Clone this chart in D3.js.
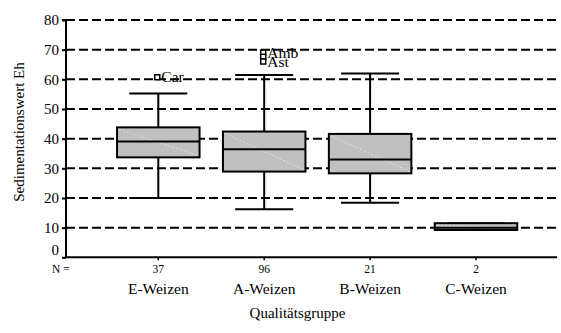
<!DOCTYPE html>
<html>
<head>
<meta charset="utf-8">
<script src="https://cdn.jsdelivr.net/npm/d3@7"></script>
<style>
  html, body { margin: 0; padding: 0; background: #fff; }
  svg { display: block; }
  svg text { font-family: "Liberation Serif", "Times New Roman", Times, serif; fill: #000; }
</style>
</head>
<body>
<svg id="chart" width="561" height="333"></svg>
<script>
// Sedimentationswert by quality group (box plot)
const categories = ["E-Weizen", "A-Weizen", "B-Weizen", "C-Weizen"];
const counts     = [37, 96, 21, 2];
const whiskerLow = [20, 16.2, 18.4, 9.2];
const q1         = [33.7, 28.9, 28.3, 9.2];
const median     = [39.0, 36.4, 33.0, 10.0];
const q3         = [43.8, 42.4, 41.6, 11.5];
const whiskerHigh= [55.2, 61.5, 62.0, 11.5];
// outliers: [category, value, label]
const outliers = [
  ["E-Weizen", 60.7, "Car"],
  ["A-Weizen", 69.0, "Amb"],
  ["A-Weizen", 67.6, ""],
  ["A-Weizen", 66.0, "Ast"]
];
const yTicks = [0, 10, 20, 30, 40, 50, 60, 70, 80];

const FONT = '"Liberation Serif", "Times New Roman", Times, serif';
const svg = d3.select("#chart");
const plotL = 66, plotR = 557, plotT = 20, plotB = 257.3;

const y = d3.scaleLinear().domain([0, 80]).range([plotB, plotT]);
const x = d3.scalePoint().domain(categories).range([158.3, 476]);
const boxW = 82.5, capW = 58;

// dashed reference lines
svg.append("g").selectAll("line")
  .data(yTicks.filter(d => d > 0))
  .join("line")
  .attr("x1", plotL).attr("x2", plotR)
  .attr("y1", d => y(d)).attr("y2", d => y(d))
  .attr("stroke", "#000").attr("stroke-width", 2)
  .attr("stroke-dasharray", "9,4");

// y axis
const yAxis = d3.axisLeft(y).tickValues(yTicks).tickSize(4).tickPadding(3);
const ya = svg.append("g").attr("transform", `translate(${plotL},0)`).call(yAxis);
ya.attr("font-family", FONT).attr("font-size", 15);
ya.select(".domain").attr("stroke-width", 2).attr("d", `M-4,${plotT}H0V${plotB}`);
ya.selectAll(".tick line").attr("stroke-width", 2);
ya.selectAll(".tick text")
  .attr("font-family", FONT).attr("font-size", 15).attr("fill", "#000")
  .attr("dy", d => d === 0 ? "-0.22em" : "0.32em");

// x baseline
svg.append("line")
  .attr("x1", plotL - 1).attr("x2", plotR)
  .attr("y1", plotB).attr("y2", plotB)
  .attr("stroke", "#000").attr("stroke-width", 2);
svg.append("g").selectAll("line")
  .data(categories).join("line")
  .attr("x1", d => x(d)).attr("x2", d => x(d))
  .attr("y1", plotB).attr("y2", plotB + 3)
  .attr("stroke", "#000").attr("stroke-width", 1.5);

// boxes
const g = svg.append("g");
categories.forEach((c, i) => {
  const cx = x(c);
  // whiskers
  g.append("line").attr("x1", cx).attr("x2", cx)
    .attr("y1", y(q3[i])).attr("y2", y(whiskerHigh[i]))
    .attr("stroke", "#000").attr("stroke-width", 2);
  g.append("line").attr("x1", cx).attr("x2", cx)
    .attr("y1", y(q1[i])).attr("y2", y(whiskerLow[i]))
    .attr("stroke", "#000").attr("stroke-width", 2);
  g.append("line").attr("x1", cx - capW / 2).attr("x2", cx + capW / 2)
    .attr("y1", y(whiskerHigh[i])).attr("y2", y(whiskerHigh[i]))
    .attr("stroke", "#000").attr("stroke-width", 2);
  g.append("line").attr("x1", cx - capW / 2).attr("x2", cx + capW / 2)
    .attr("y1", y(whiskerLow[i])).attr("y2", y(whiskerLow[i]))
    .attr("stroke", "#000").attr("stroke-width", 2);
  // box
  g.append("rect")
    .attr("x", cx - boxW / 2).attr("y", y(q3[i]))
    .attr("width", boxW).attr("height", y(q1[i]) - y(q3[i]))
    .attr("fill", "#c0c0c0").attr("stroke", "#000").attr("stroke-width", 2);
  // faint diagonal sheen
  g.append("line")
    .attr("x1", cx - boxW / 2 + 2).attr("y1", y(q3[i]) + 2)
    .attr("x2", cx + boxW / 2 - 2).attr("y2", y(q1[i]) - 2)
    .attr("stroke", "#e2e2e2").attr("stroke-width", 1)
    .attr("stroke-dasharray", "2,2");
  // median
  g.append("line").attr("x1", cx - boxW / 2).attr("x2", cx + boxW / 2)
    .attr("y1", y(median[i])).attr("y2", y(median[i]))
    .attr("stroke", "#000").attr("stroke-width", 2);
});

// outliers
const og = svg.append("g");
outliers.forEach(([c, v, lab]) => {
  const cx = x(c) - 1, cy = y(v);
  og.append("rect").attr("x", cx - 2.5).attr("y", cy - 2.5)
    .attr("width", 5).attr("height", 5)
    .attr("fill", "#fff").attr("stroke", "#000").attr("stroke-width", 1.5);
  if (lab) {
    og.append("text").attr("x", cx + 4).attr("y", cy + 5)
      .attr("font-family", FONT).attr("font-size", 15.5).text(lab);
  }
});

// N row
svg.append("text").attr("x", 52).attr("y", 273)
  .attr("font-family", FONT).attr("font-size", 11.5).text("N =");
svg.append("g").selectAll("text").data(categories).join("text")
  .attr("x", d => x(d)).attr("y", 273)
  .attr("text-anchor", "middle").attr("font-family", FONT).attr("font-size", 11.5)
  .text((d, i) => counts[i]);

// category labels
svg.append("g").selectAll("text").data(categories).join("text")
  .attr("x", d => x(d)).attr("y", 294)
  .attr("text-anchor", "middle").attr("font-family", FONT).attr("font-size", 15.5)
  .text(d => d);

// axis titles
svg.append("text").attr("x", 297.5).attr("y", 318)
  .attr("text-anchor", "middle").attr("font-family", FONT).attr("font-size", 15)
  .text("Qualitätsgruppe");
svg.append("text")
  .attr("transform", "translate(24,132) rotate(-90)")
  .attr("text-anchor", "middle").attr("font-family", FONT).attr("font-size", 15)
  .text("Sedimentationswert Eh");
</script>
</body>
</html>
